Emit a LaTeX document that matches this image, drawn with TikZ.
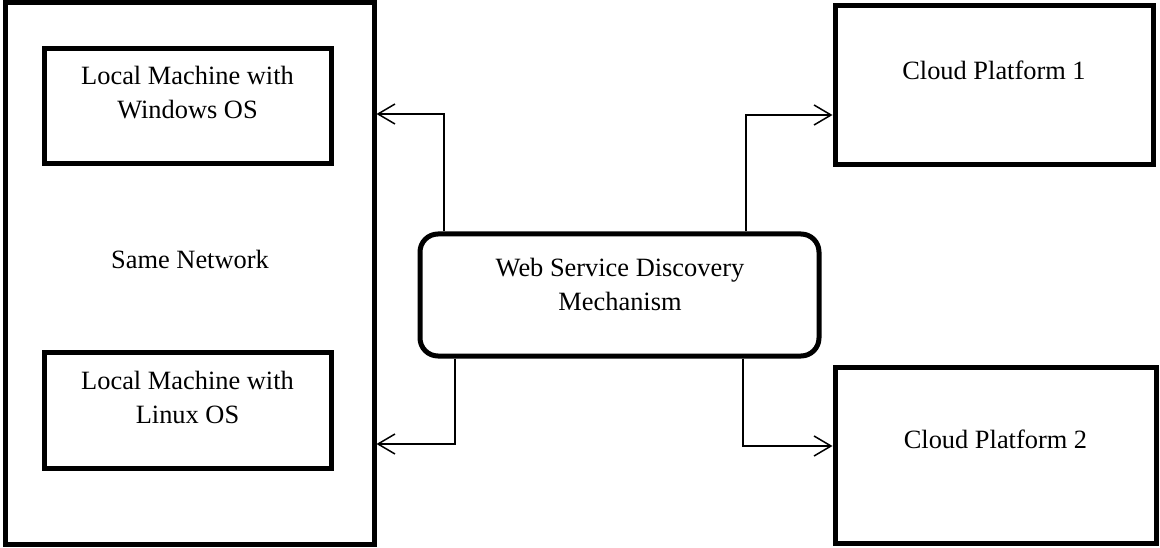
\documentclass[tikz,border=0pt]{standalone}
\usepackage{fontspec}
\setmainfont{Liberation Serif}
\usetikzlibrary{arrows.meta}

\tikzset{
  box/.style={draw=black, line width=5pt, rectangle, inner sep=0pt},
  roundbox/.style={box, rounded corners=18pt},
  % anchor=base of a multi-line label sits on its last line
  label/.style={inner sep=0pt, anchor=base, align=center,
    font=\fontsize{26.4pt}{34pt}\selectfont},
  conn/.style={draw=black, line width=1.5pt,
    -{Straight Barb[length=17pt,width=20pt,line width=1.5pt]}},
}

\begin{document}
\begin{tikzpicture}[x=1pt, y=-1pt]
  \useasboundingbox (0,0) rectangle (1160,548);

  % left group: machines on the same network
  \node[box, minimum width=368.5pt, minimum height=541pt] (net) at (189.75,273.5) {};
  \node[box, minimum width=287pt, minimum height=115pt] (win) at (187.5,106.5) {};
  \node[box, minimum width=287pt, minimum height=116pt] (lin) at (187.5,410) {};
  \node[label] (wintxt) at (187.5,119) {Local Machine with\\Windows OS};
  \node[label] (lintxt) at (187.5,423) {Local Machine with\\Linux OS};
  \node[label] (nettxt) at (190,269) {Same Network};

  % discovery mechanism in the middle
  \node[roundbox, minimum width=399pt, minimum height=122pt] (wsd) at (619.5,295) {};
  \node[label] (wsdtxt) at (620,310) {Web Service Discovery\\Mechanism};

  % cloud platforms on the right
  \node[box, minimum width=318pt, minimum height=159pt] (cp1) at (994,85.5) {};
  \node[box, minimum width=321pt, minimum height=176pt] (cp2) at (995.5,455) {};
  \node[label] (cp1txt) at (994,80) {Cloud Platform 1};
  \node[label] (cp2txt) at (995.5,448) {Cloud Platform 2};

  % connectors
  \draw[conn] (444,0 |- wsd.north) |- (net.east |- 0,114);
  \draw[conn] (455,0 |- wsd.south) |- (net.east |- 0,444);
  \draw[conn] (746,0 |- wsd.north) |- (cp1.west |- 0,115);
  \draw[conn] (743,0 |- wsd.south) |- (cp2.west |- 0,446);
\end{tikzpicture}
\end{document}
